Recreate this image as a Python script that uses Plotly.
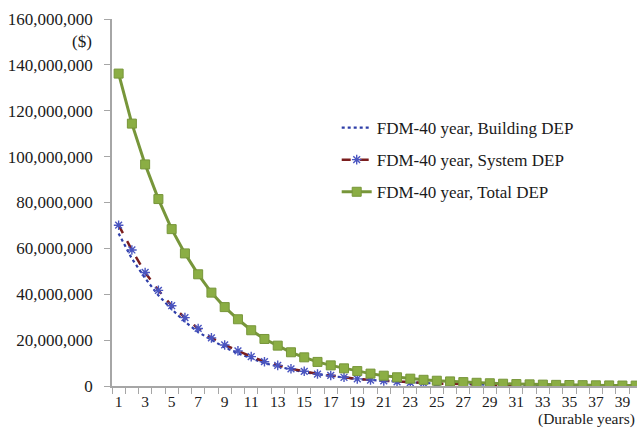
import plotly.graph_objects as go

years = list(range(1, 41))

building_dep = [66.5, 55.5, 47.0, 39.5, 33.5, 28.0, 23.5, 20.0, 16.8, 14.2,
                12.0, 10.0, 8.5, 7.2, 6.0, 5.1, 4.3, 3.6, 3.0, 2.6,
                2.2, 1.8, 1.5, 1.3, 1.1, 0.92, 0.78, 0.65, 0.55, 0.46,
                0.39, 0.33, 0.28, 0.23, 0.20, 0.17, 0.14, 0.12, 0.10, 0.08]
system_dep = [70.1, 59.3, 49.5, 41.7, 35.0, 29.8, 25.1, 21.0, 17.9, 15.3,
              12.8, 10.6, 9.0, 7.5, 6.4, 5.2, 4.6, 3.8, 3.1, 2.6,
              2.2, 1.8, 1.5, 1.3, 1.1, 0.92, 0.78, 0.66, 0.55, 0.46,
              0.39, 0.33, 0.28, 0.23, 0.20, 0.17, 0.14, 0.12, 0.10, 0.08]
total_dep = [136.2, 114.4, 96.6, 81.5, 68.4, 57.8, 48.7, 40.7, 34.4, 29.1,
             24.3, 20.5, 17.6, 14.7, 12.5, 10.5, 9.0, 7.7, 6.5, 5.4,
             4.5, 3.8, 3.2, 2.7, 2.3, 2.0, 1.7, 1.4, 1.2, 1.0,
             0.85, 0.72, 0.60, 0.50, 0.43, 0.36, 0.30, 0.25, 0.21, 0.18]

# values above are in millions of dollars
scale = 1_000_000
x_tick_vals = list(range(1, 40, 2))
y_tick_vals = list(range(0, 160_000_001, 20_000_000))

FONT = "Liberation Serif, Times New Roman, serif"
AXIS_GRAY = "#A6A6A6"
TEXT = "#1a1a1a"

fig = go.Figure()
fig.add_trace(go.Scatter(
    x=years, y=[v * scale for v in building_dep], mode="lines",
    name="FDM-40 year, Building DEP", legendgroup="a",
    line=dict(color="#2E3EA8", width=2.2, dash="dot"),
))
fig.add_trace(go.Scatter(
    x=years, y=[v * scale for v in system_dep], mode="lines+markers",
    name="FDM-40 year, System DEP", legendgroup="b",
    line=dict(color="#7B1E1E", width=2.5, dash="dash"),
    marker=dict(symbol="asterisk-open", size=8, color="#4A55C0",
                line=dict(color="#4A55C0", width=1.4)),
))
fig.add_trace(go.Scatter(
    x=years, y=[v * scale for v in total_dep], mode="lines+markers",
    name="FDM-40 year, Total DEP", legendgroup="c",
    line=dict(color="#77963A", width=3),
    marker=dict(symbol="square", size=9, color="#8BAE44",
                line=dict(color="#77963A", width=1)),
))

fig.update_layout(
    width=637, height=429,
    margin=dict(l=112, r=0, t=19, b=43),
    paper_bgcolor="white", plot_bgcolor="white",
    font=dict(family=FONT, size=17, color=TEXT),
    showlegend=True,
    legend=dict(x=0.428, y=0.752, xanchor="left", yanchor="top",
                bgcolor="rgba(0,0,0,0)", tracegroupgap=7,
                font=dict(family=FONT, size=17, color=TEXT)),
    xaxis=dict(
        range=[0.5, 40.1], tickmode="array", tickvals=x_tick_vals,
        ticks="outside", ticklen=0, ticklabelstandoff=1,
        showgrid=False, zeroline=False,
        showline=True, linecolor=AXIS_GRAY, linewidth=1.5,
        tickfont=dict(family=FONT, size=15.5, color=TEXT),
        minor=dict(tickmode="linear", tick0=0.5, dtick=1, ticks="outside",
                   ticklen=6, tickcolor=AXIS_GRAY, showgrid=False),
    ),
    yaxis=dict(
        range=[0, 160_000_000], tickmode="array", tickvals=y_tick_vals,
        tickformat=",d", ticks="outside", ticklen=6, tickcolor=AXIS_GRAY,
        ticklabelstandoff=8,
        showgrid=False, zeroline=False, showline=True,
        linecolor=AXIS_GRAY, linewidth=1.5,
        tickfont=dict(family=FONT, size=17, color=TEXT),
    ),
    annotations=[
        dict(text="($)", xref="paper", yref="y", x=0, y=150_000_000,
             xanchor="right", yanchor="middle", xshift=-18, showarrow=False,
             font=dict(family=FONT, size=17, color=TEXT)),
        dict(text="(Durable years)", xref="paper", yref="paper", x=1, y=0,
             xanchor="right", yanchor="bottom", yshift=-44, showarrow=False,
             font=dict(family=FONT, size=15.5, color=TEXT)),
    ],
)

fig.write_html("out.html")
